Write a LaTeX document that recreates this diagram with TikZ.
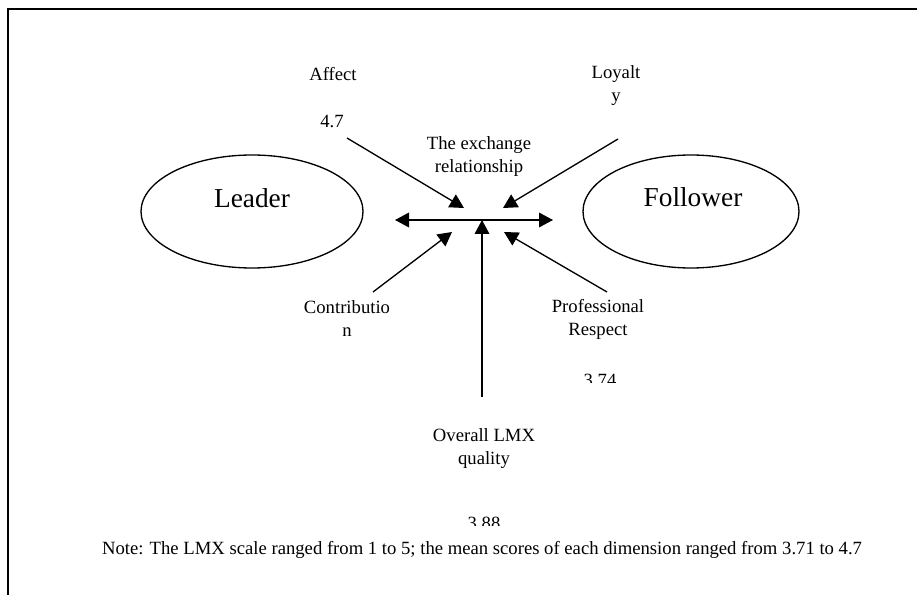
\documentclass[tikz,border=0pt]{standalone}
\usepackage{fontspec}
\setmainfont{Liberation Serif}
\usetikzlibrary{arrows.meta,shapes.geometric}
\begin{document}
\begin{tikzpicture}[x=0.75pt,y=-0.75pt,
 lbl/.style={inner sep=0pt, align=center, font=\fontsize{14}{17.25}\selectfont},
 big/.style={inner sep=0pt, font=\fontsize{20.5}{24}\selectfont},
 oval/.style={draw, ellipse, line width=1pt, inner sep=0pt, minimum width=166.5pt, minimum height=84.75pt},
 arr/.style={line width=1pt, -{Triangle[length=10.5pt,width=11pt]}},
]
\useasboundingbox (0,0) rectangle (917,595);
\draw[line width=1.3pt] (8,595) -- (8,9) -- (917,9);

% ellipses
\node[oval] (leader) at (252,211.5) {};
\node[big] (leaderText) at (252,198) {Leader};
\node[oval, minimum width=162pt] (follower) at (691,211.5) {};
\node[big] (followerText) at (693,197) {Follower};

% labels
\node[lbl] (affect) at (333,74) {Affect};
\node[lbl] (affectVal) at (332,121) {4.7};
\node[lbl] (loyalty) at (616,85.5) {Loyalt\\y};
\node[lbl] (exchange) at (479,157) {The exchange\\relationship};
\node[lbl] (contrib) at (347,318.5) {Contributio\\n};
\node[lbl] (prof) at (598,319.5) {Professional\\Respect};
\node[lbl] (overall) at (484,448.5) {Overall LMX\\quality};
\begin{scope}
  \clip (560,360) rectangle (640,382);
  \node[lbl,anchor=north] (profVal) at (600,374) {3.74};
\end{scope}
\begin{scope}
  \clip (440,500) rectangle (530,525);
  \node[lbl,anchor=north] (overallVal) at (484,517) {3.88};
\end{scope}
\node[lbl] (note) at (482,550) {Note: The LMX scale ranged from 1 to 5; the mean scores of each dimension ranged from 3.71 to 4.7};

% connector ends
\coordinate (hL) at (395,220);
\coordinate (hR) at (553,220);
\coordinate (hub) at (482,220);
\coordinate (vB) at (482,397);
\coordinate (affS) at (347,138);
\coordinate (affT) at (464,208);
\coordinate (loyS) at (618,139);
\coordinate (loyT) at (503,208);
\coordinate (conS) at (373,292);
\coordinate (conT) at (452,232);
\coordinate (proS) at (607,292);
\coordinate (proT) at (504,232);

% arrows
\draw[arr, {Triangle[length=10.5pt,width=11pt]}-{Triangle[length=10.5pt,width=11pt]}] (hL) -- (hR);
\draw[arr] (vB) -- (hub);
\draw[arr] (affS) -- (affT);
\draw[arr] (loyS) -- (loyT);
\draw[arr] (conS) -- (conT);
\draw[arr] (proS) -- (proT);
\end{tikzpicture}
\end{document}
